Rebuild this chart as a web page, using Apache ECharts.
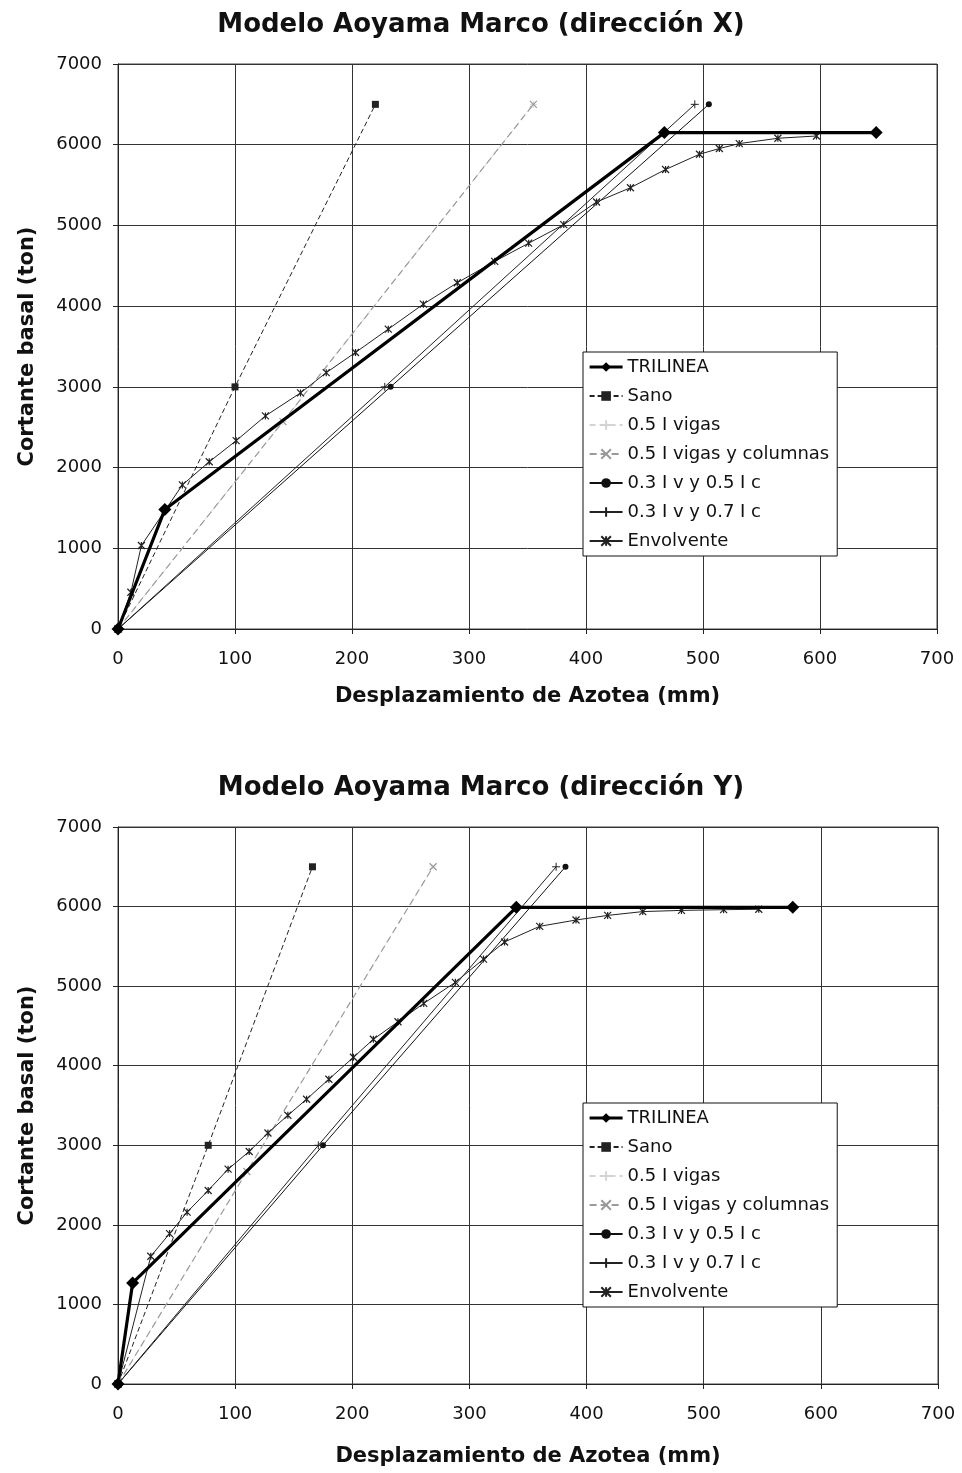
<!DOCTYPE html>
<html>
<head>
<meta charset="utf-8">
<script src="https://cdn.jsdelivr.net/npm/echarts@6/dist/echarts.min.js"></script>
<style>
  html, body { margin: 0; padding: 0; background: #fff; }
  #chart { width: 962px; height: 1473px; }
</style>
</head>
<body>
<div id="chart"></div>
<script>
// nombres de las series
const seriesNames = ['TRILINEA', 'Sano', '0.5 I vigas', '0.5 I vigas y columnas', '0.3 I v y 0.5 I c', '0.3 I v y 0.7 I c', 'Envolvente']
const xTicks = [0, 100, 200, 300, 400, 500, 600, 700]
const yTicks = [0, 1000, 2000, 3000, 4000, 5000, 6000, 7000]

// direccion X  [desplazamiento mm, cortante ton]
const trilineaX = [[0, 0], [40, 1480], [467, 6150], [648, 6150]]
const sanoX = [[0, 0], [100, 3000], [220, 6500]]
const vigasX = [[0, 0], [141, 2570], [355, 6500]]
const vigasColX = [[0, 0], [141, 2570], [355, 6500]]
const v05cX = [[0, 0], [233, 3000], [505, 6500]]
const v07cX = [[0, 0], [228, 3000], [493, 6500]]
const envX = [[0, 0], [11, 455], [20, 1035], [55, 1785], [78, 2072], [101, 2333], [126, 2640], [156, 2925],
  [178, 3176], [203, 3426], [231, 3715], [261, 4025], [290, 4290], [322, 4555], [351, 4780], [381, 5010],
  [409, 5290], [438, 5467], [468, 5693], [497, 5882], [514, 5953], [531, 6014], [564, 6080], [597, 6108]]

// direccion Y
const trilineaY = [[0, 0], [12.5, 1270], [340, 5990], [576, 5990]]
const sanoY = [[0, 0], [77, 3000], [166, 6500]]
const vigasY = [[0, 0], [110, 2670], [269, 6500]]
const vigasColY = [[0, 0], [110, 2670], [269, 6500]]
const v05cY = [[0, 0], [175, 3000], [382, 6500]]
const v07cY = [[0, 0], [171, 3000], [374, 6500]]
const envY = [[0, 0], [28, 1605], [44, 1890], [59, 2160], [77, 2432], [94, 2700], [112, 2922], [128, 3155],
  [145, 3377], [161, 3579], [180, 3830], [201, 4106], [218, 4332], [239, 4552], [261, 4783], [288, 5048],
  [312, 5340], [330, 5555], [360, 5752], [391, 5831], [418, 5889], [448, 5937], [481, 5952], [517, 5961], [547, 5966]]

const font = 'DejaVu Sans'
const xMark = 'path://M0,0L10,10M10,0L0,10'
const starMark = 'path://M0,0L10,10M10,0L0,10M5,0L5,10'
const plusMark = 'path://M5,0L5,10M0,5L10,5'

function makeSeries(idx, d) {
  const base = { type: 'line', xAxisIndex: idx, yAxisIndex: idx, animation: false, z: 3 }
  const faint = idx === 0 ? '#d4d4d4' : '#eeeeee'
  return [
    Object.assign({}, base, {
      name: seriesNames[0], data: d[0], z: 5,
      symbol: 'diamond', symbolSize: 13,
      lineStyle: { color: '#000', width: 3.2 }, itemStyle: { color: '#000' }
    }),
    Object.assign({}, base, {
      name: seriesNames[1], data: d[1],
      symbol: 'rect', symbolSize: 7,
      lineStyle: { color: '#222', width: 1, type: [5, 3] }, itemStyle: { color: '#222' }
    }),
    Object.assign({}, base, {
      name: seriesNames[2], data: d[2],
      symbol: plusMark, symbolSize: 7,
      lineStyle: { color: faint, width: 1, type: [6, 4] },
      itemStyle: { color: faint, borderColor: faint, borderWidth: 1 }
    }),
    Object.assign({}, base, {
      name: seriesNames[3], data: d[3],
      symbol: xMark, symbolSize: 7,
      lineStyle: { color: '#9a9a9a', width: 1.2, type: [7, 4] },
      itemStyle: { color: '#9a9a9a', borderColor: '#9a9a9a', borderWidth: 1.2 }
    }),
    Object.assign({}, base, {
      name: seriesNames[4], data: d[4],
      symbol: 'circle', symbolSize: 6,
      lineStyle: { color: '#111', width: 1 }, itemStyle: { color: '#111' }
    }),
    Object.assign({}, base, {
      name: seriesNames[5], data: d[5],
      symbol: plusMark, symbolSize: 8,
      lineStyle: { color: '#222', width: 1 },
      itemStyle: { color: '#222', borderColor: '#222', borderWidth: 1 }
    }),
    Object.assign({}, base, {
      name: seriesNames[6], data: d[6], z: 4,
      symbol: starMark, symbolSize: 7,
      lineStyle: { color: '#222', width: 1 },
      itemStyle: { color: '#222', borderColor: '#222', borderWidth: 1.2 }
    })
  ]
}

function xAxisFor(idx, gap) {
  return {
    gridIndex: idx, type: 'value', min: xTicks[0], max: xTicks[xTicks.length - 1], interval: 100,
    name: 'Desplazamiento de Azotea (mm)', nameLocation: 'middle', nameGap: gap,
    nameTextStyle: { fontFamily: font, fontWeight: 'bold', fontSize: 21, color: '#111' },
    axisLine: { lineStyle: { color: '#222', width: 1 } },
    axisTick: { show: true, length: 5, inside: false, lineStyle: { color: '#222' } },
    axisLabel: { fontFamily: font, fontSize: 18, color: '#111', margin: 21, formatter: v => String(v) },
    splitLine: { show: true, lineStyle: { color: '#333', width: 1 } }
  }
}

function yAxisFor(idx) {
  return {
    gridIndex: idx, type: 'value', min: yTicks[0], max: yTicks[yTicks.length - 1], interval: 1000,
    name: 'Cortante basal (ton)', nameLocation: 'middle', nameGap: 80,
    nameTextStyle: { fontFamily: font, fontWeight: 'bold', fontSize: 21, color: '#111' },
    axisLine: { show: true, lineStyle: { color: '#222', width: 1 } },
    axisTick: { show: true, length: 5, lineStyle: { color: '#222' } },
    axisLabel: { fontFamily: font, fontSize: 18, color: '#111', margin: 16, formatter: v => String(v) },
    splitLine: { show: true, lineStyle: { color: '#333', width: 1 } }
  }
}

function legendFor(top) {
  const items = seriesNames.map((n, i) => i === 0 ? { name: n, lineStyle: { width: 3.2 } } : { name: n })
  return {
    data: items, orient: 'vertical', left: 583, top: top,
    backgroundColor: '#fff', borderColor: '#111', borderWidth: 1,
    padding: [6, 8, 6, 5], itemGap: 11, itemWidth: 33, itemHeight: 12,
    selectedMode: false,
    textStyle: { fontFamily: font, fontSize: 18, color: '#111', lineHeight: 18 }
  }
}

const chart = echarts.init(document.getElementById('chart'), null, { renderer: 'canvas' })
chart.setOption({
  backgroundColor: '#fff',
  animation: false,
  title: [
    { text: 'Modelo Aoyama Marco (dirección X)', left: 'center', top: 7,
      textStyle: { fontFamily: font, fontWeight: 'bold', fontSize: 26, color: '#111' } },
    { text: 'Modelo Aoyama Marco (dirección Y)', left: 'center', top: 770,
      textStyle: { fontFamily: font, fontWeight: 'bold', fontSize: 26, color: '#111' } }
  ],
  legend: [legendFor(352), legendFor(1103)],
  grid: [
    { left: 118, top: 64, width: 819, height: 565, show: true, borderColor: '#444', borderWidth: 1 },
    { left: 118, top: 827, width: 820, height: 557, show: true, borderColor: '#444', borderWidth: 1 }
  ],
  xAxis: [xAxisFor(0, 57), xAxisFor(1, 62)],
  yAxis: [yAxisFor(0), yAxisFor(1)],
  series: makeSeries(0, [trilineaX, sanoX, vigasX, vigasColX, v05cX, v07cX, envX])
    .concat(makeSeries(1, [trilineaY, sanoY, vigasY, vigasColY, v05cY, v07cY, envY]))
})
</script>
</body>
</html>
